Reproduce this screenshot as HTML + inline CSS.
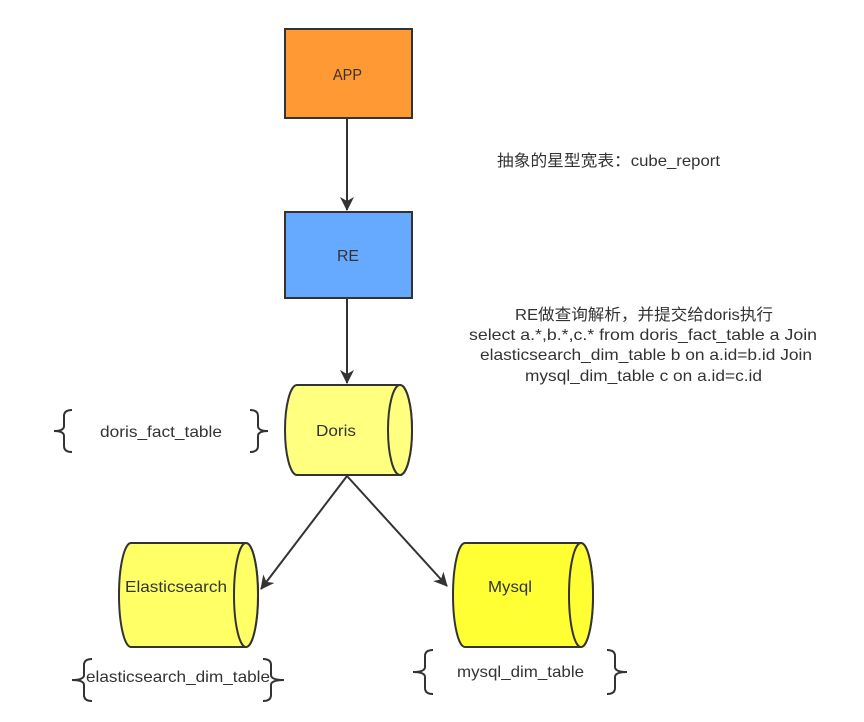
<!DOCTYPE html>
<html><head><meta charset="utf-8"><style>body{margin:0;background:#fff}svg{display:block}</style></head><body>
<svg width="864" height="722" viewBox="0 0 864 722" xmlns="http://www.w3.org/2000/svg" font-family="'Liberation Sans','Noto Sans CJK SC',sans-serif" font-size="16" fill="#333">
<defs><marker id="a" markerWidth="14" markerHeight="14" refX="13" refY="7" orient="auto" markerUnits="userSpaceOnUse"><path d="M0,0 L14,7 L0,14 L4,7 Z" fill="#333"/></marker></defs>
<rect x="285" y="29" width="127" height="89" fill="#ff9933" stroke="#333" stroke-width="2"/>
<text x="333" y="80" textLength="29" lengthAdjust="spacingAndGlyphs">APP</text>
<rect x="285" y="212" width="127" height="86" fill="#66aaff" stroke="#333" stroke-width="2"/>
<text x="337" y="261" textLength="22" lengthAdjust="spacingAndGlyphs">RE</text>
<line x1="347" y1="118" x2="347" y2="210" stroke="#333" stroke-width="2" marker-end="url(#a)"/>
<line x1="347" y1="298" x2="347" y2="383" stroke="#333" stroke-width="2" marker-end="url(#a)"/>
<line x1="347" y1="476" x2="261" y2="589" stroke="#333" stroke-width="2" marker-end="url(#a)"/>
<line x1="347" y1="476" x2="447" y2="586" stroke="#333" stroke-width="2" marker-end="url(#a)"/>
<g stroke="#333" stroke-width="2">
<path d="M297,385 L400,385 A12,45 0 0 1 400,475 L297,475 A12,45 0 0 1 297,385 Z" fill="#ffff80"/>
<ellipse cx="400" cy="430" rx="12" ry="45" fill="#ffff80"/>
<path d="M131,543 L246,543 A12,52 0 0 1 246,647 L131,647 A12,52 0 0 1 131,543 Z" fill="#ffff66"/>
<ellipse cx="246" cy="595" rx="12" ry="52" fill="#ffff66"/>
<path d="M465,543 L581,543 A12,52 0 0 1 581,647 L465,647 A12,52 0 0 1 465,543 Z" fill="#ffff33"/>
<ellipse cx="581" cy="595" rx="12" ry="52" fill="#ffff33"/>
</g>
<text x="316" y="436" textLength="40" lengthAdjust="spacingAndGlyphs">Doris</text>
<text x="125" y="592" textLength="102" lengthAdjust="spacingAndGlyphs">Elasticsearch</text>
<text x="488" y="592" textLength="44" lengthAdjust="spacingAndGlyphs">Mysql</text>
<g fill="none" stroke="#333" stroke-width="2">
<path d="M72,410 Q64,410 64,416 L64,426 Q64,431 54,431 Q64,431 64,436 L64,446 Q64,452 72,452"/>
<path d="M250,410 Q258,410 258,416 L258,426 Q258,431 268,431 Q258,431 258,436 L258,446 Q258,452 250,452"/>
<path d="M92,659 Q84,659 84,665 L84,675 Q84,680 72,680 Q84,680 84,685 L84,695 Q84,701 92,701"/>
<path d="M263,659 Q271,659 271,665 L271,675 Q271,680 284,680 Q271,680 271,685 L271,695 Q271,701 263,701"/>
<path d="M433,650 Q425,650 425,656 L425,667 Q425,672 413,672 Q425,672 425,677 L425,688 Q425,694 433,694"/>
<path d="M607,650 Q615,650 615,656 L615,667 Q615,672 627,672 Q615,672 615,677 L615,688 Q615,694 607,694"/>
</g>
<text x="100" y="437" textLength="122" lengthAdjust="spacingAndGlyphs">doris_fact_table</text>
<text x="86" y="682" textLength="184" lengthAdjust="spacingAndGlyphs">elasticsearch_dim_table</text>
<text x="457" y="677" textLength="127" lengthAdjust="spacingAndGlyphs">mysql_dim_table</text>
<text x="497" y="166" textLength="223" lengthAdjust="spacingAndGlyphs">抽象的星型宽表：cube_report</text>
<text x="515" y="320" textLength="258" lengthAdjust="spacingAndGlyphs">RE做查询解析，并提交给doris执行</text>
<text x="469" y="340" textLength="348" lengthAdjust="spacingAndGlyphs">select a.*,b.*,c.* from doris_fact_table a Join</text>
<text x="480" y="360" textLength="332" lengthAdjust="spacingAndGlyphs">elasticsearch_dim_table b on a.id=b.id Join</text>
<text x="525" y="381" textLength="237" lengthAdjust="spacingAndGlyphs">mysql_dim_table c on a.id=c.id</text>
</svg>
</body></html>
